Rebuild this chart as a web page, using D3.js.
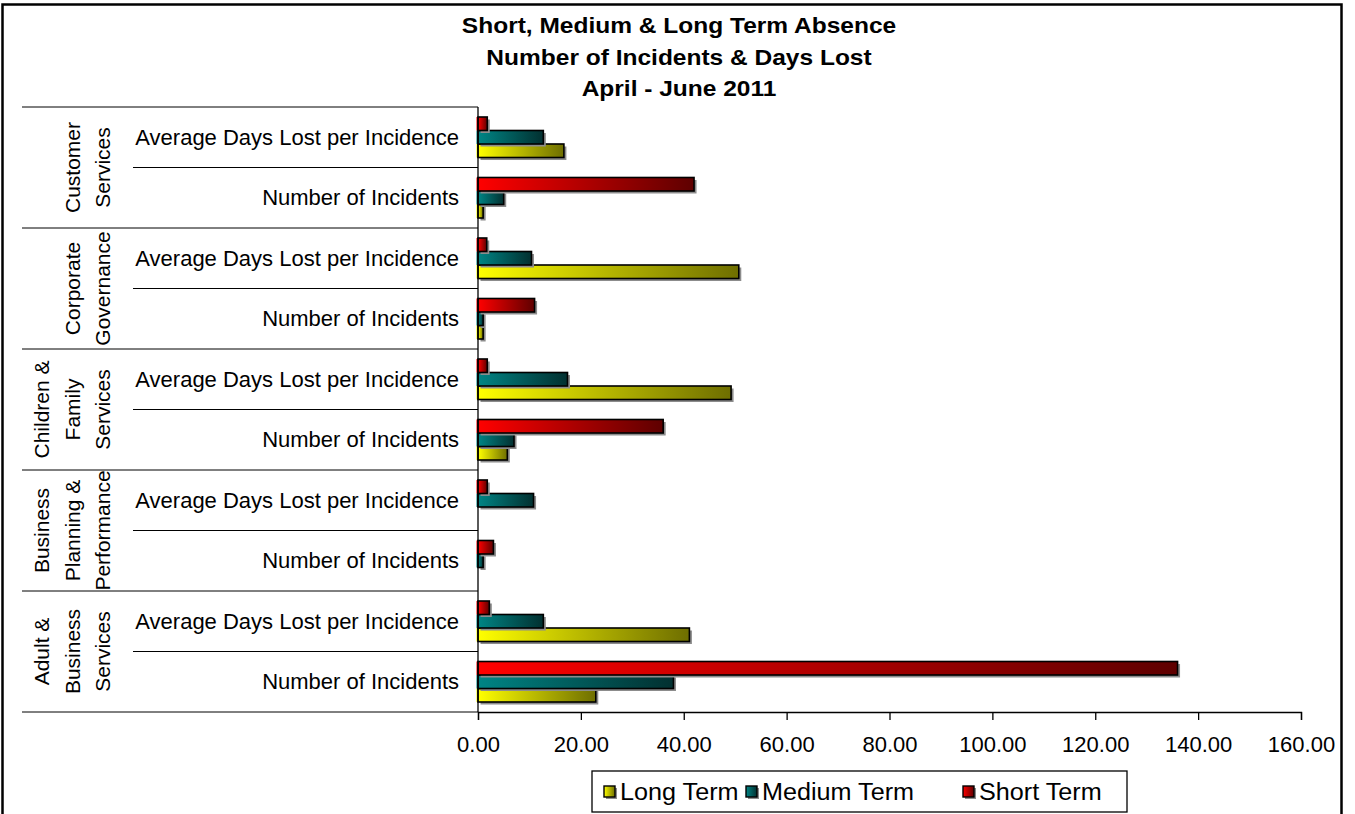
<!DOCTYPE html>
<html>
<head>
<meta charset="utf-8">
<script src="https://cdn.jsdelivr.net/npm/d3@7"></script>
<style>
  html, body { margin: 0; padding: 0; background: #fff; }
  svg { display: block; font-family: Arial, "Liberation Sans", sans-serif; }
</style>
</head>
<body>
<svg id="chart" width="1355" height="814"></svg>
<script>
// ---- data -------------------------------------------------------------
const titleLines = [
  "Short, Medium & Long Term Absence",
  "Number of Incidents & Days Lost",
  "April - June 2011"
];
// directorates, top to bottom, with their wrapped label lines
const groups = [
  "Customer Services",
  "Corporate Governance",
  "Children & Family Services",
  "Business Planning & Performance",
  "Adult & Business Services"
];
const groupLines = [
  ["Customer", "Services"],
  ["Corporate", "Governance"],
  ["Children &", "Family", "Services"],
  ["Business", "Planning &", "Performance"],
  ["Adult &", "Business", "Services"]
];
const measures = ["Average Days Lost per Incidence", "Number of Incidents"];
// values per row: for each directorate, average days then number of incidents
const longTerm   = [16.7, 1, 50.7, 1, 49.2, 5.7, 0, 0, 41.1, 22.9];
const mediumTerm = [12.7, 5, 10.4, 1, 17.4, 7, 10.8, 1, 12.7, 38];
const shortTerm  = [1.8, 42, 1.7, 11, 1.8, 36, 1.8, 3, 2.2, 136];
const seriesNames = ["Long Term", "Medium Term", "Short Term"];
const tickValues = [0, 20, 40, 60, 80, 100, 120, 140, 160];

// ---- layout -----------------------------------------------------------
const svg = d3.select("#chart");
const plot = { left: 478, right: 1301, top: 107, bottom: 712 };

const rows = [];
groups.forEach((g, gi) => measures.forEach((m, mi) => rows.push({ key: gi + "|" + mi, group: gi, measure: m })));

const x = d3.scaleLinear().domain([0, 160]).range([plot.left, plot.right]);
const y = d3.scaleBand().domain(rows.map(r => r.key)).range([plot.top, plot.bottom]).padding(0);
// inside each row: short term on top, long term at the bottom
const barOrder = ["Short Term", "Medium Term", "Long Term"];
const yInner = d3.scaleBand().domain(barOrder).range([0, y.bandwidth()]).paddingInner(0).paddingOuter(0.74);

const seriesValues = { "Long Term": longTerm, "Medium Term": mediumTerm, "Short Term": shortTerm };
const gradStops = {
  "Long Term":   ["#ffff00", "#6e6e00"],
  "Medium Term": ["#008585", "#023030"],
  "Short Term":  ["#ff0000", "#5e0000"]
};
const gradId = s => "g-" + s.replace(/\s+/g, "");

const defs = svg.append("defs");
seriesNames.forEach(s => {
  const lg = defs.append("linearGradient").attr("id", gradId(s))
    .attr("x1", "0").attr("y1", "0").attr("x2", "1").attr("y2", "0");
  lg.append("stop").attr("offset", "0").attr("stop-color", gradStops[s][0]);
  lg.append("stop").attr("offset", "1").attr("stop-color", gradStops[s][1]);
});

// outer chart frame
svg.append("rect").attr("x", 2.5).attr("y", 4.5).attr("width", 1339).attr("height", 820)
  .attr("fill", "#fff").attr("stroke", "#000").attr("stroke-width", 2.5);

// title
const title = svg.append("g").attr("transform", "translate(679,0)");
titleLines.forEach((t, i) => {
  title.append("text")
    .attr("transform", `translate(0,${33 + i * 31.5}) scale(1.14,1)`)
    .attr("text-anchor", "middle").attr("font-weight", "bold").attr("font-size", 21.5)
    .attr("fill", "#000").text(t);
});

// category axis: row separators, group separators and labels
const catAxis = svg.append("g");
rows.forEach((r, i) => {
  if (i % 2 === 1) {
    const yy = y(r.key);
    catAxis.append("line").attr("x1", 133).attr("x2", plot.left).attr("y1", yy).attr("y2", yy)
      .attr("stroke", "#000").attr("stroke-width", 1);
  }
  catAxis.append("text")
    .attr("x", 459).attr("y", y(r.key) + y.bandwidth() / 2).attr("dy", "0.35em")
    .attr("text-anchor", "end").attr("font-size", 22).attr("fill", "#000")
    .text(r.measure);
});
const groupBounds = groups.map((g, gi) => y(gi + "|0"));
groupBounds.concat([plot.bottom]).forEach(yy => {
  catAxis.append("line").attr("x1", 22).attr("x2", plot.left).attr("y1", yy).attr("y2", yy)
    .attr("stroke", "#000").attr("stroke-width", 1);
});
groupLines.forEach((lines, gi) => {
  const cy = y(gi + "|0") + y.bandwidth();
  const n = lines.length;
  lines.forEach((ln, li) => {
    const bx = 110 - (n - 1 - li) * 30.5;
    catAxis.append("text")
      .attr("transform", `translate(${bx},${cy}) rotate(-90)`)
      .attr("text-anchor", "middle").attr("font-size", 21).attr("fill", "#000")
      .text(ln);
  });
});

// bars
const barLayer = svg.append("g");
seriesNames.forEach(s => {
  const vals = seriesValues[s];
  rows.forEach((r, i) => {
    const v = vals[i];
    if (!v) return;
    const by = y(r.key) + yInner(s);
    const bh = yInner.bandwidth();
    const w = x(v) - x(0);
    // drop shadow
    barLayer.append("rect").attr("x", x(0) + 2.5).attr("y", by + 2.5)
      .attr("width", w).attr("height", bh).attr("fill", "#8c8c8c");
    barLayer.append("rect").attr("x", x(0) - 1.5).attr("y", by)
      .attr("width", w + 1.5).attr("height", bh).attr("fill", `url(#${gradId(s)})`);
    barLayer.append("rect").attr("x", x(0)).attr("y", by)
      .attr("width", w).attr("height", bh)
      .attr("fill", `url(#${gradId(s)})`).attr("stroke", "#000").attr("stroke-width", 1.6);
  });
});

// value axis
svg.append("line").attr("x1", plot.left).attr("x2", plot.left).attr("y1", plot.top).attr("y2", plot.bottom)
  .attr("stroke", "#000").attr("stroke-width", 1.3);
const xAxis = d3.axisBottom(x).tickValues(tickValues).tickFormat(d3.format(".2f")).tickSize(8).tickPadding(16);
const ax = svg.append("g").attr("transform", `translate(0,${plot.bottom})`).call(xAxis);
ax.select(".domain").attr("stroke", "#000").attr("stroke-width", 1.3);
ax.selectAll(".tick line").attr("stroke", "#000").attr("stroke-width", 1.3);
ax.selectAll(".tick text").attr("font-size", 22).attr("fill", "#000")
  .attr("font-family", "Arial, 'Liberation Sans', sans-serif");

// legend
const legend = svg.append("g").attr("transform", "translate(592,771)");
legend.append("rect").attr("x", 0).attr("y", 0).attr("width", 535).attr("height", 41)
  .attr("fill", "#fff").attr("stroke", "#000").attr("stroke-width", 1.3);
const legendX = [12, 154, 371];
seriesNames.forEach((s, i) => {
  const g = legend.append("g").attr("transform", `translate(${legendX[i]},15)`);
  g.append("rect").attr("x", 2).attr("y", 2).attr("width", 11).attr("height", 11).attr("fill", "#8c8c8c");
  g.append("rect").attr("x", 0).attr("y", 0).attr("width", 11).attr("height", 11)
    .attr("fill", `url(#${gradId(s)})`).attr("stroke", "#000").attr("stroke-width", 1.4);
  g.append("text").attr("transform", "translate(16,14) scale(1.05,1)")
    .attr("font-size", 24).attr("fill", "#000").text(s);
});
</script>
</body>
</html>
